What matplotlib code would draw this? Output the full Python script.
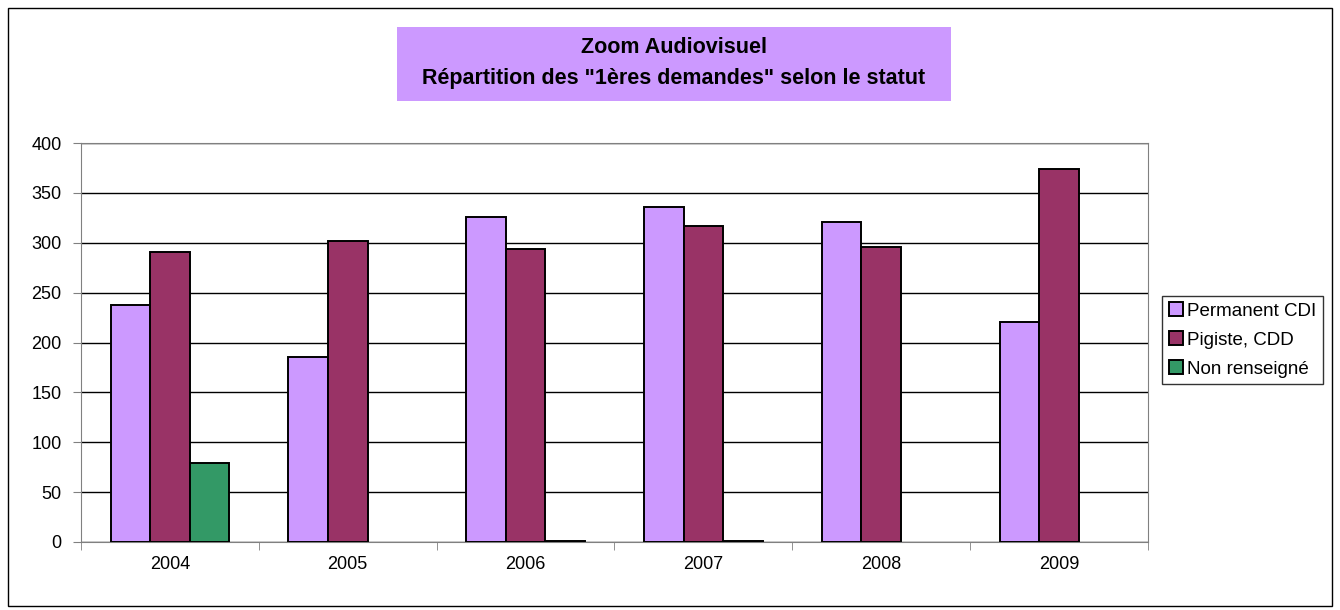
import numpy as np
import matplotlib.pyplot as plt
from matplotlib.patches import Rectangle

plt.rcParams['font.family'] = ['Liberation Sans', 'DejaVu Sans']

years = ['2004', '2005', '2006', '2007', '2008', '2009']
permanent = [238, 185, 326, 336, 321, 221]
pigiste = [291, 302, 294, 317, 296, 374]
non_renseigne = [79, 0, 1, 1, 0, 0]
series_names = ['Permanent CDI', 'Pigiste, CDD', 'Non renseigné']
colors = ['#cc99ff', '#993366', '#339966']

fig = plt.figure(figsize=(13.4, 6.1), dpi=100)
# outer chart border
fig.patches.append(Rectangle((8/1340, 4/610), 1324/1340, 598/610, transform=fig.transFigure,
                             fill=False, edgecolor='black', linewidth=1))
# title box
fig.patches.append(Rectangle((397/1340, 1 - 101/610), 554/1340, 74/610, transform=fig.transFigure,
                             facecolor='#cc99ff', edgecolor='none'))

ax = fig.add_axes([81/1340, 68/610, 1067/1340, 399/610])
x = np.arange(len(years))
w = 1 / 4.5
for i, (vals, name, col) in enumerate(zip([permanent, pigiste, non_renseigne], series_names, colors)):
    # zero values are not drawn at all
    h = np.where(np.array(vals) == 0, np.nan, vals)
    ax.bar(x + (i - 1) * w, h, width=w, color=col, edgecolor='black', linewidth=1.4,
           label=name, zorder=3)

ax.set_xlim(-0.5, len(years) - 0.5)
ax.set_ylim(0, 400)
ax.set_yticks(range(0, 401, 50))
ax.yaxis.grid(True, color='black', linewidth=1, zorder=0)
ax.set_xticks(x)
ax.set_xticklabels(years, fontsize=13)
ax.set_xticks(np.arange(-0.5, len(years)), minor=True)
ax.tick_params(axis='x', which='major', length=0, pad=10)
ax.tick_params(axis='x', which='minor', length=6, color='#808080')
ax.tick_params(axis='y', labelsize=13, length=6, color='#808080', pad=8)
for s in ax.spines.values():
    s.set_color('#808080')

leg = ax.legend(loc='upper left', bbox_to_anchor=(1.0131, 0.617), fontsize=13.5, frameon=True,
                fancybox=False, edgecolor='black', handlelength=0.75, handleheight=0.75,
                handletextpad=0.25, borderpad=0.35, labelspacing=0.62, borderaxespad=0)
leg.get_frame().set_linewidth(1)

fig.text(674/1340, 1 - 63/610, 'Zoom Audiovisuel\nRépartition des "1ères demandes" selon le statut',
         ha='center', va='center', fontsize=15.5, fontweight='bold', linespacing=1.65)

plt.savefig('out.png')
